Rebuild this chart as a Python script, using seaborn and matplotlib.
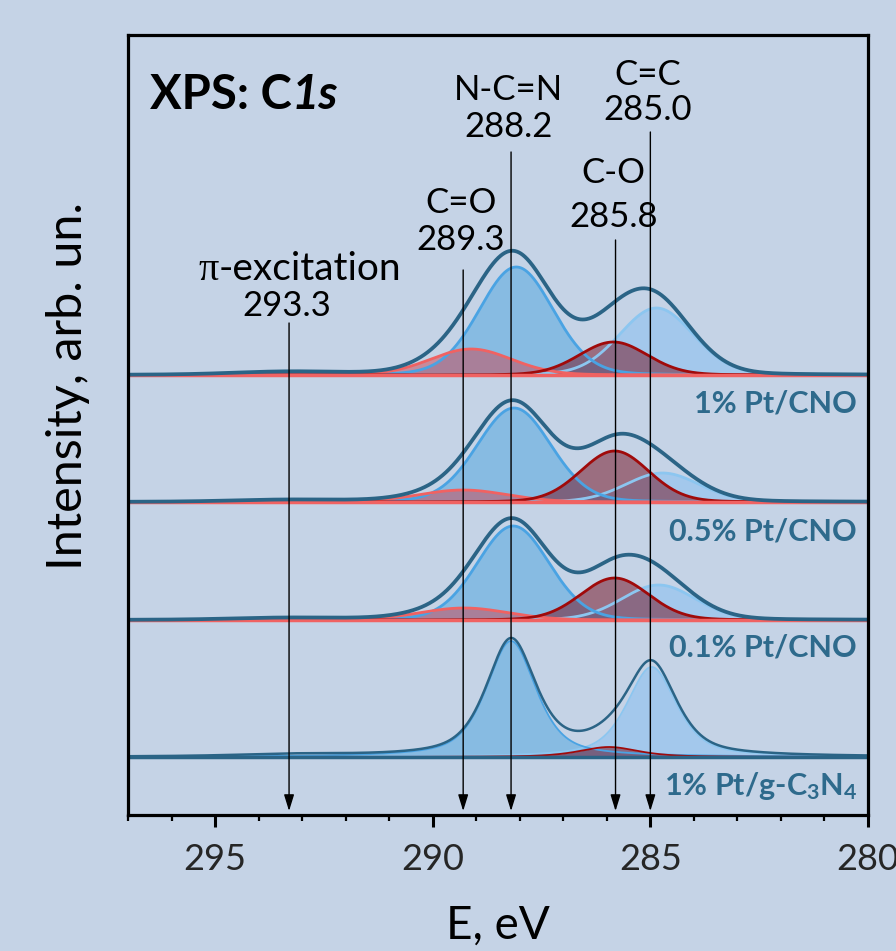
import numpy as np
import pandas as pd
import matplotlib
matplotlib.use('Agg')
import matplotlib.pyplot as plt
import seaborn as sns

# spectra, top to bottom
samples = ['1% Pt/CNO', '0.5% Pt/CNO', '0.1% Pt/CNO', '1% Pt/g-C$_\\mathbf{3}$N$_\\mathbf{4}$']
offsets = [440, 313, 195, 58]          # vertical shift of each spectrum, arb. un.

# fitted components: centre (eV), height (arb. un.), FWHM (eV)
ncn_pos = [288.08, 288.13, 288.15, 288.20]     # N-C=N
ncn_amp = [108, 94, 94, 116]
ncn_fwhm = [2.0, 2.0, 1.95, 1.35]

cc_pos = [284.86, 284.72, 284.81, 284.97]      # C=C
cc_amp = [67, 29, 35, 90]
cc_fwhm = [2.0, 2.0, 2.0, 1.35]

co_pos = [285.85, 285.82, 285.82, 285.95]      # C-O
co_amp = [33, 51, 42, 10]
co_fwhm = [1.85, 1.85, 1.85, 1.6]

cdo_pos = [289.12, 289.30, 289.28, 289.30]     # C=O
cdo_amp = [26, 12, 12, 0]
cdo_fwhm = [2.2, 2.4, 2.4, 2.4]

pi_pos = [293.3, 293.3, 293.3, 293.2]          # pi-excitation
pi_amp = [3, 2, 2, 2]
pi_fwhm = [3.0, 3.0, 3.0, 3.0]

lor_frac = [0.1, 0.1, 0.1, 0.6]                # Lorentzian share of the line shape

# peak assignments and arrows
peak_names = ['-excitation', 'C=O', 'N-C=N', 'C-O', 'C=C']
peak_values = ['293.3', '289.3', '288.2', '285.8', '285.0']
peak_energy = [293.3, 289.3, 288.2, 285.8, 285.0]

# colours
bg = '#c5d3e6'
env_col = '#2b6486'
lab_col = '#2e6a8c'
ncn_line, ncn_fill = '#4aa3e3', '#5fabe0'
cc_line, cc_fill = '#8cc6f0', '#87bff1'
co_line, co_fill = '#a00a0a', '#730b1b'
cdo_line, cdo_fill = '#f06262', '#cb4551'

sns.set_theme(style='white')
plt.rcParams['font.family'] = ['Lato', 'DejaVu Sans']
plt.rcParams['mathtext.fontset'] = 'custom'
plt.rcParams['mathtext.rm'] = 'Lato'
plt.rcParams['mathtext.it'] = 'Lato:italic'
plt.rcParams['mathtext.bf'] = 'Lato:bold'


def pv(E, pos, amp, fwhm, m):
    x = (E - pos) / (fwhm / 2)
    return amp * ((1 - m) * np.exp(-np.log(2) * x**2) + m / (1 + x**2))


E = np.linspace(297, 280, 1500)

fig = plt.figure(figsize=(8.96, 9.51), dpi=100, facecolor=bg)
ax = fig.add_axes([128 / 896, 136 / 951, 740 / 896, 780 / 951])
ax.set_facecolor(bg)

for i, name in enumerate(samples):
    base = offsets[i]
    m = lor_frac[i]
    last = i == len(samples) - 1
    clw = 1.3 if last else 2.0
    comps = [
        (pv(E, cc_pos[i], cc_amp[i], cc_fwhm[i], m), cc_line, cc_fill, 0.55),
        (pv(E, ncn_pos[i], ncn_amp[i], ncn_fwhm[i], m), ncn_line, ncn_fill, 0.6),
        (pv(E, cdo_pos[i], cdo_amp[i], cdo_fwhm[i], m), cdo_line, cdo_fill, 0.5),
        (pv(E, co_pos[i], co_amp[i], co_fwhm[i], m), co_line, co_fill, 0.5),
        (pv(E, pi_pos[i], pi_amp[i], pi_fwhm[i], m), ncn_line, ncn_fill, 0.0),
    ]
    total = np.zeros_like(E)
    for y, lc, fc, a in comps:
        total += y
        if y.max() < 4:
            continue
        ax.fill_between(E, base, base + y, color=fc, alpha=a, lw=0)
        ax.plot(E, base + y, color=lc, lw=clw)
    # zero line
    ax.axhline(base, color=env_col if last else cdo_line, lw=2.5)
    df = pd.DataFrame({'E': E, 'I': base + total})
    sns.lineplot(data=df, x='E', y='I', color=env_col, lw=1.8 if last else 2.7,
                 ax=ax, sort=False)

# sample labels
label_y = [402, 275, 158, 20]
for name, yl in zip(samples, label_y):
    ax.text(280.25, yl, name, ha='right', va='baseline', fontsize=22,
            fontweight='bold', color=lab_col)

ax.set_xlim(297, 280)
ax.set_ylim(0, 780)

# peak assignments with arrows
name_y = [535, 612, 725, 642, 740]
value_y = [509, 575, 688, 598, 705]
arrow_top = [492, 545, 663, 575, 683]
for k, (nm, val, en, ny, vy, at) in enumerate(zip(peak_names, peak_values, peak_energy,
                                                  name_y, value_y, arrow_top)):
    if k == 0:
        # serif pi followed by the rest of the word
        tp = ax.text(295.38, ny, 'π', ha='left', va='baseline', fontsize=29,
                     family=['Liberation Serif', 'DejaVu Serif'], color='black')
        fig.canvas.draw()
        bb = tp.get_window_extent()
        xr = ax.transData.inverted().transform((bb.x1, bb.y0))[0]
        ax.text(xr, ny, nm, ha='left', va='baseline', fontsize=28, color='black')
    else:
        ax.text(en + 0.05, ny, nm, ha='center', va='center', fontsize=25, color='black')
    ax.text(en + 0.05, vy, val, ha='center', va='center', fontsize=25, color='black')
    ax.annotate('', xy=(en, 4), xytext=(en, at),
                arrowprops=dict(arrowstyle='-|>,head_length=0.55,head_width=0.17',
                                color='black', lw=1.0, mutation_scale=18,
                                shrinkA=0, shrinkB=0))

t1 = ax.text(296.5, 720, 'XPS: C', ha='left', va='center', fontsize=34,
             fontweight='bold', color='black')
ax.annotate('1s', xy=(1, 0), xycoords=t1, ha='left', va='bottom', fontsize=34,
            fontweight='bold', fontstyle='italic', color='black')

ax.set_xticks([295, 290, 285, 280])
ax.set_xticks(np.arange(281, 297.5, 1), minor=True)
ax.set_yticks([])
ax.tick_params(axis='x', which='major', direction='out', length=8.5, width=2.2,
               labelsize=26, pad=12, color='black', bottom=True)
ax.tick_params(axis='x', which='minor', direction='out', length=4.3, width=1.6,
               color='black', bottom=True)
for s in ax.spines.values():
    s.set_color('black')
    s.set_linewidth(2.3)
ax.set_xlabel('E, eV', fontsize=33, labelpad=20, color='black')
ax.set_ylabel('Intensity, arb. un.', fontsize=35, color='black')
ax.yaxis.set_label_coords(-0.052, 0.55)

fig.savefig('out.png', dpi=100, facecolor=bg)
